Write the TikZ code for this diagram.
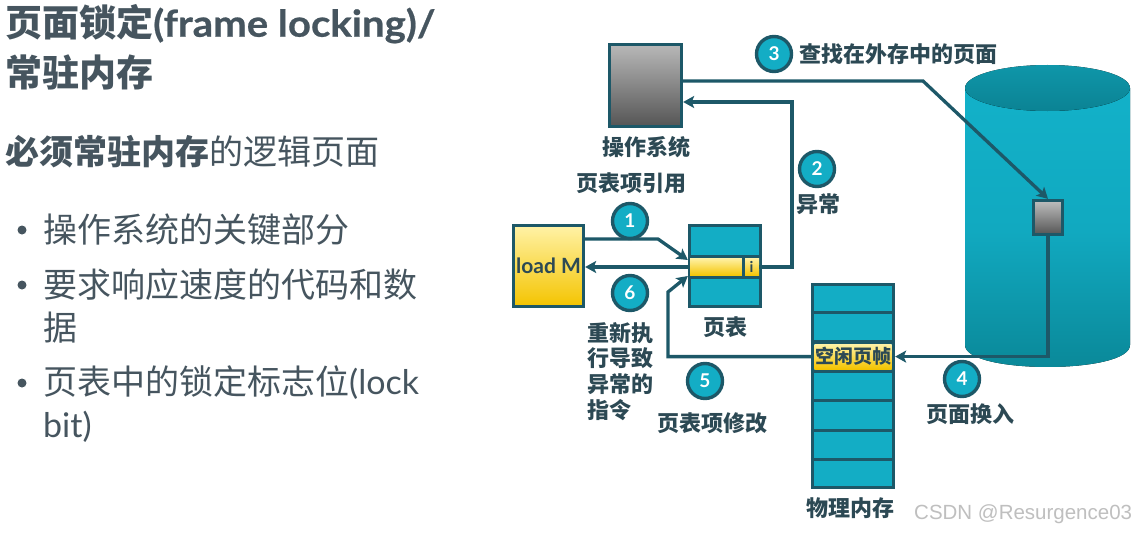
\documentclass[tikz,border=0pt]{standalone}
\usepackage{fontspec}
\setmainfont{Lato}
\newfontfamily\cjk{Noto Sans CJK SC}
\newfontfamily\titlelatin{Lato}[FakeStretch=1.085, BoldFeatures={FakeBold=0.6}]
\newfontfamily\wmfont{Liberation Sans}
\usetikzlibrary{arrows.meta,calc}

\definecolor{ink}{HTML}{1D5868}
\definecolor{tealc}{HTML}{13ADC5}
\definecolor{labelc}{HTML}{2C4954}
\definecolor{titlec}{HTML}{46555F}
\definecolor{yelTop}{HTML}{FFF2A6}
\definecolor{yelBot}{HTML}{F4C400}
\definecolor{grayTop}{HTML}{B8B8B8}
\definecolor{grayBot}{HTML}{555555}
\definecolor{cylTop}{HTML}{12B1C9}
\definecolor{cylMid}{HTML}{11A9C0}
\definecolor{cylBot}{HTML}{0A8797}
\definecolor{capTop}{HTML}{0F96A9}
\definecolor{capBot}{HTML}{0B8394}

\begin{document}
\begin{tikzpicture}[x=1pt,y=-1pt,
  line/.style={draw=ink, line width=3.3pt},
  arr/.style={line, -{Stealth[length=11pt,width=12pt,inset=2.5pt]}},
  num/.style={circle, draw=ink, line width=3.4pt, fill=tealc, text=white,
    font=\bfseries\fontsize{19}{19}\selectfont, minimum size=35pt, inner sep=0pt},
  lbl/.style={text=labelc, font=\cjk\bfseries\fontsize{22}{26}\selectfont, inner sep=0pt},
  box/.style={line, inner sep=0pt},
  bigtext/.style={text=titlec, inner sep=0pt, anchor=west},
  dot/.style={circle, fill=titlec, inner sep=0pt, minimum size=9pt}
]
\useasboundingbox (0,0) rectangle (1140,535);
\fill[white] (0,0) rectangle (1140,535);

% ---------- left column text ----------
\node[bigtext, font=\fontsize{37}{40}\selectfont] (t1) at (5,24)
  {{\cjk\bfseries 页面锁定}{\titlelatin\bfseries (frame locking)/}};
\node[bigtext, font=\cjk\bfseries\fontsize{37}{40}\selectfont] (t2) at (5,72) {常驻内存};
\node[bigtext, font=\cjk\fontsize{34}{38}\selectfont] (sub) at (5,152)
  {{\bfseries 必须常驻内存}的逻辑页面};

\node[dot] (d1) at (22,230) {};
\node[bigtext, font=\cjk\fontsize{34}{38}\selectfont] (b1) at (43,230) {操作系统的关键部分};
\node[dot] (d2) at (22,285) {};
\node[bigtext, font=\cjk\fontsize{34}{38}\selectfont] (b2) at (43,285) {要求响应速度的代码和数};
\node[bigtext, font=\cjk\fontsize{34}{38}\selectfont] (b2b) at (43,328) {据};
\node[dot] (d3) at (22,383) {};
\node[bigtext, font=\fontsize{34}{38}\selectfont] (b3) at (43,383) {{\cjk 页表中的锁定标志位}(lock};
\node[bigtext, font=\fontsize{34}{38}\selectfont] (b3b) at (43,427) {bit)};

% ---------- disk cylinder ----------
\fill[top color=cylTop, bottom color=cylBot, middle color=cylMid]
  (965,88) -- (965,345) .. controls (965,374.3) and (1130,374.3) .. (1130,345)
  -- (1130,88) -- cycle;
\fill[top color=capTop, bottom color=capBot] (1047.5,88) ellipse [x radius=82.5, y radius=23];

% ---------- boxes ----------
\node[box, top color=grayTop, bottom color=grayBot, minimum width=72pt, minimum height=82pt]
  (os) at (645.5,85.5) {};
\node[lbl] (oslbl) at (646,147) {操作系统};

\node[box, top color=yelTop, bottom color=yelBot, minimum width=70pt, minimum height=81pt,
  text=labelc, font=\bfseries\fontsize{21}{21}\selectfont] (loadm) at (548.5,266) {load M};

\node[box, fill=tealc, minimum width=71pt, minimum height=81pt] (pt) at (725,266) {};
\node[inner sep=0pt, top color=yelTop, bottom color=yelBot, minimum width=52pt, minimum height=18pt]
  (ptrow) at (716,267) {};
\node[inner sep=0pt, top color=yelTop, bottom color=yelBot, minimum width=15pt, minimum height=18pt,
  text=labelc, font=\bfseries\fontsize{15}{15}\selectfont] (icell) at (751.5,267) {i};
\draw[line] (pt.west |- 0,256.5) -- (pt.east |- 0,256.5);
\draw[line] (pt.west |- 0,277.5) -- (pt.east |- 0,277.5);
\draw[line] (743.5,256.5) -- (743.5,277.5);
\node[lbl] (ptlbl) at (725,327) {页表};

\node[box, fill=tealc, minimum width=81pt, minimum height=203pt] (mem) at (853,386) {};
\foreach \k in {1,...,6}
  \draw[line] (mem.west |- 0,{283+\k*29.43}) -- (mem.east |- 0,{283+\k*29.43});
\node[inner sep=0pt, top color=yelTop, bottom color=yelBot, minimum width=77pt, minimum height=25pt,
  text=labelc, font=\cjk\bfseries\fontsize{19}{19}\selectfont] (free) at (853,356.6) {空闲页帧};
\node[lbl] (memlbl) at (850,508) {物理内存};

\node[box, top color=grayTop!90!white, bottom color=grayBot, minimum width=29pt, minimum height=34pt]
  (page) at (1048,217.5) {};

% ---------- connectors ----------
\draw[arr] ([yshift=27pt]loadm.east) -- (658,239) -- ([yshift=6pt]pt.west);
\draw[arr] (pt.west |- ptrow) -- (loadm.east |- ptrow);
\draw[arr] (icell.east) -- (792,267) -- (792,102) -- ([yshift=-16.5pt]os.east);
\draw[arr] ([yshift=4.5pt]os.east) -- (923,81) -- (page.north);
\draw[arr] (page.south) -- (page.south |- free) -- (mem.east |- free);
\draw[arr] (mem.west |- free) -- (668,356.6) -- (668,292) -- ([yshift=-10pt]pt.west);

% ---------- step markers and labels ----------
\node[num] (n1) at (630,221) {1};
\node[lbl] (l1) at (631,183) {页表项引用};
\node[num] (n2) at (817,169) {2};
\node[lbl] (l2) at (818,204) {异常};
\node[num] (n3) at (774,54) {3};
\node[lbl, anchor=west] (l3) at (799,54) {查找在外存中的页面};
\node[num] (n4) at (962,379) {4};
\node[lbl] (l4) at (970,414) {页面换入};
\node[num] (n5) at (705,381) {5};
\node[lbl] (l5) at (712,423) {页表项修改};
\node[num] (n6) at (630,293) {6};
\node[lbl, anchor=north west, align=left, font=\cjk\bfseries\fontsize{22}{25.7}\selectfont]
  (l6) at (587,322) {重新执\\行导致\\异常的\\指令};

% ---------- watermark ----------
\node[anchor=west, inner sep=0pt, text=black!25, font=\wmfont\fontsize{20.5}{22}\selectfont]
  (wm) at (914,514) {CSDN @Resurgence03};
\end{tikzpicture}
\end{document}
